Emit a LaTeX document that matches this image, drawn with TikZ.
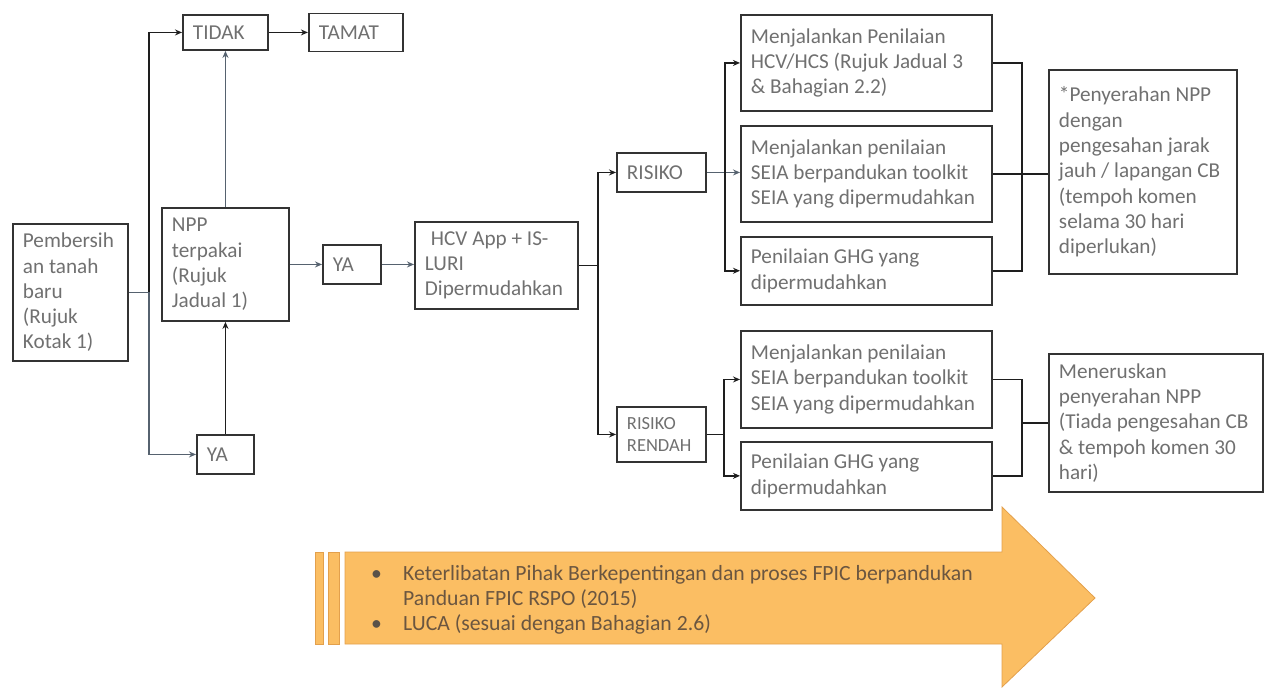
\documentclass[tikz,border=0pt]{standalone}
\usepackage{fontspec}
\setmainfont{Carlito}
\usepackage{xcolor}
\usetikzlibrary{arrows.meta,positioning}
\definecolor{BoxText}{HTML}{707070}
\definecolor{BoxLine}{HTML}{333333}
\definecolor{DarkLink}{HTML}{1E1E1E}
\definecolor{SlateLink}{HTML}{56626F}
\definecolor{ArrowFill}{HTML}{FBBE63}
\definecolor{ArrowLine}{HTML}{E3A04C}
\definecolor{ArrowText}{HTML}{6B5640}
\definecolor{BulletGrey}{HTML}{5A5248}

\begin{document}
\begin{tikzpicture}[x=1pt,y=-1pt]
  \tikzset{BoxStyle/.style={draw=BoxLine,line width=1.9pt,text=BoxText,
      font=\fontsize{21.2}{25.3}\selectfont,align=flush left,
      inner xsep=10pt,inner ysep=0pt,anchor=north west}}
  \tikzset{EdgeStyle/.style={->,>={Stealth[length=7pt,width=6pt]},line width=1.9pt,draw=DarkLink}}
  \tikzset{SlateEdge/.style={EdgeStyle,draw=SlateLink}}
  \useasboundingbox (0,0) rectangle (1264,688);

  \node[BoxStyle,text width=95pt,minimum height=137pt] (Bersih) at (12,223)
    {Pembersih\\an tanah\\baru\\(Rujuk\\Kotak 1)};
  \node[BoxStyle,text width=65pt,minimum height=35pt] (Tidak) at (182,14) {TIDAK};
  \node[BoxStyle,text width=74pt,minimum height=38pt,right=39pt of Tidak] (Tamat) {TAMAT};
  \node[BoxStyle,text width=107pt,minimum height=113pt] (Npp) at (161,207)
    {NPP\\terpakai\\(Rujuk\\Jadual 1)};
  \node[BoxStyle,text width=37pt,minimum height=39pt] (YaBawah) at (196,434) {YA};
  \node[BoxStyle,text width=38pt,minimum height=39pt] (Ya) at (322,244) {YA};
  \node[BoxStyle,text width=143pt,minimum height=87pt] (Hcv) at (414,221)
    {\hspace*{6pt}HCV App + IS-\\LURI\\Dipermudahkan};
  \node[BoxStyle,text width=69pt,minimum height=39pt] (Risiko) at (616,152) {RISIKO};
  \node[BoxStyle,text width=69pt,minimum height=55pt,font=\fontsize{18.5}{21.5}\selectfont] (Rendah) at (616,406)
    {RISIKO\\RENDAH};

  \node[BoxStyle,text width=231pt,minimum height=96pt] (Hcs) at (740,14)
    {Menjalankan Penilaian\\HCV/HCS (Rujuk Jadual 3\\\& Bahagian 2.2)};
  \node[BoxStyle,text width=231pt,minimum height=96pt,below=13pt of Hcs] (SeiaA)
    {Menjalankan penilaian\\SEIA berpandukan toolkit\\SEIA yang dipermudahkan};
  \node[BoxStyle,text width=231pt,minimum height=68pt,below=13pt of SeiaA] (GhgA)
    {Penilaian GHG yang\\dipermudahkan};
  \node[BoxStyle,text width=168pt,minimum height=204pt] (Serah) at (1048,69)
    {*Penyerahan NPP\\dengan\\pengesahan jarak\\jauh / lapangan CB\\(tempoh komen\\selama 30 hari\\diperlukan)};

  \node[BoxStyle,text width=231pt,minimum height=97pt] (SeiaB) at (740,330)
    {Menjalankan penilaian\\SEIA berpandukan toolkit\\SEIA yang dipermudahkan};
  \node[BoxStyle,text width=231pt,minimum height=68pt,below=12pt of SeiaB] (GhgB)
    {Penilaian GHG yang\\dipermudahkan};
  \node[BoxStyle,text width=194pt,minimum height=138pt] (Terus) at (1048,353)
    {Meneruskan\\penyerahan NPP\\(Tiada pengesahan CB\\\& tempoh komen 30\\hari)};

  \coordinate (J1) at ([xshift=20pt]Bersih.east);
  \draw[SlateEdge,-] (Bersih.east) -- (J1);
  \draw[EdgeStyle] (J1) |- (Tidak.west);
  \draw[SlateEdge] (J1) |- (YaBawah.west);
  \draw[EdgeStyle] (Tidak.east) -- (Tidak.east -| Tamat.west);
  \draw[SlateEdge] (Npp.north) -- (Tidak.south);
  \draw[EdgeStyle] (YaBawah.north) -- (Npp.south);
  \draw[SlateEdge] (Npp.east) -- (Ya.west);
  \draw[SlateEdge] (Ya.east) -- (Ya.east -| Hcv.west);

  \coordinate (J2) at ([xshift=19pt]Hcv.east);
  \draw[EdgeStyle,-] (Hcv.east) -- (J2);
  \draw[EdgeStyle] (J2) |- (Risiko.west);
  \draw[EdgeStyle] (J2) |- (Rendah.west);

  \draw[SlateEdge] (Risiko.east) -- (Risiko.east -| SeiaA.west);
  \coordinate (J3) at ([xshift=18pt]Risiko.east);
  \draw[EdgeStyle] (J3) |- (Hcs.west);
  \draw[EdgeStyle] (J3) |- (GhgA.west);

  \coordinate (J4) at ([xshift=17pt]Rendah.east);
  \draw[EdgeStyle,-] (Rendah.east) -- (J4);
  \draw[EdgeStyle] (J4) |- (SeiaB.west);
  \draw[EdgeStyle] (J4) |- (GhgB.west);

  \coordinate (J5) at ([xshift=29pt]SeiaA.east);
  \draw[EdgeStyle,-] (Hcs.east) -| (J5) |- (GhgA.east);
  \draw[EdgeStyle,-] (SeiaA.east) -- (SeiaA.east -| Serah.west);
  \coordinate (J6) at (J5 |- Terus.west);
  \draw[EdgeStyle,-] (SeiaB.east) -| (J6) |- (GhgB.east);
  \draw[EdgeStyle,-] (J6) -- (Terus.west);

  \filldraw[fill=ArrowFill,draw=ArrowLine,line width=0.8pt]
    (345,552) -- (1002,552) -- (1002,507) -- (1095,598) -- (1002,687)
    -- (1002,644) -- (345,644) -- cycle;
  \filldraw[fill=ArrowFill,draw=ArrowLine,line width=0.8pt] (315,552) rectangle (323,644);
  \filldraw[fill=ArrowFill,draw=ArrowLine,line width=0.8pt] (328,552) rectangle (339,644);
  \node[anchor=west,inner sep=0pt,align=flush left,text=ArrowText,
      font=\fontsize{21.7}{25}\selectfont] (Panduan) at (371,600)
    {\makebox[32pt][l]{\textcolor{BulletGrey}{•}}Keterlibatan Pihak Berkepentingan dan proses FPIC berpandukan\\
     \hspace*{32pt}Panduan FPIC RSPO (2015)\\
     \makebox[32pt][l]{\textcolor{BulletGrey}{•}}LUCA (sesuai dengan Bahagian 2.6)};
\end{tikzpicture}
\end{document}
